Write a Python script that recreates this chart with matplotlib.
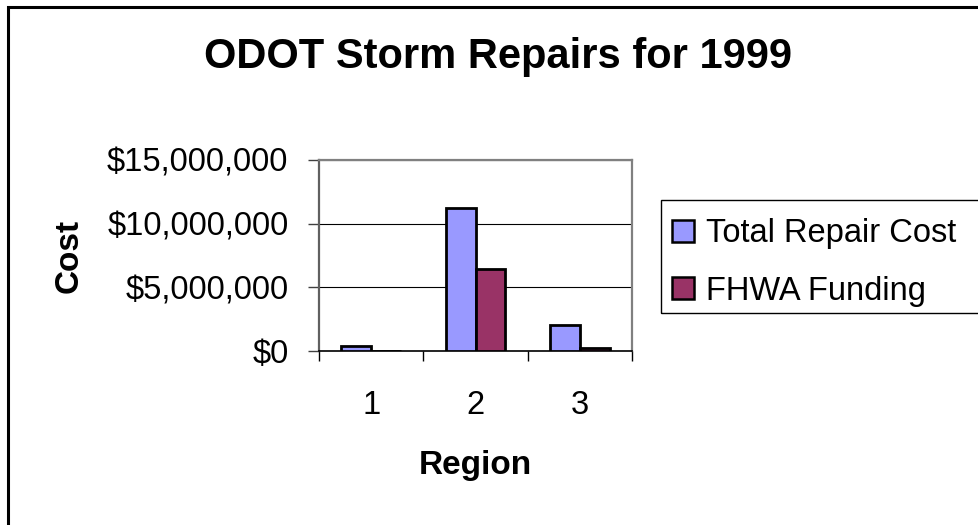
import matplotlib.pyplot as plt
import numpy as np
from matplotlib.patches import Rectangle
from matplotlib.ticker import FuncFormatter

# Data
regions = ["1", "2", "3"]
total_repair_cost = [400000, 11250000, 2080000]
fhwa_funding = [0, 6450000, 210000]
series_names = ["Total Repair Cost", "FHWA Funding"]

plt.rcParams['font.family'] = ['Liberation Sans', 'DejaVu Sans']

W, H = 979, 525
fig = plt.figure(figsize=(W / 100, H / 100), dpi=100)
fig.patch.set_facecolor('white')

# plot area in pixels: left 319, right 632, top 160, bottom 351
ax = fig.add_axes([319 / W, 1 - 351 / H, 313 / W, 191 / H])

x = np.arange(1, len(regions) + 1)
w = 0.285
ax.bar(x - w / 2, total_repair_cost, w, color='#9999FF', edgecolor='black', linewidth=2.0,
       label=series_names[0], zorder=3)
ax.bar(x + w / 2, fhwa_funding, w, color='#993366', edgecolor='black', linewidth=2.0,
       label=series_names[1], zorder=3)

ax.set_xlim(0.5, 3.5)
ax.set_ylim(0, 15000000)
ax.set_yticks([0, 5000000, 10000000, 15000000])
ax.yaxis.set_major_formatter(FuncFormatter(lambda v, p: f"${v:,.0f}"))
ax.grid(axis='y', color='black', linewidth=0.8, zorder=0)

# category boundaries as major ticks, labels on minor ticks at centres
ax.set_xticks([0.5, 1.5, 2.5, 3.5])
ax.set_xticklabels([])
ax.set_xticks(x, minor=True)
ax.set_xticklabels(regions, minor=True)
ax.tick_params(axis='x', which='major', direction='out', length=7, width=1, color='black')
ax.tick_params(axis='x', which='minor', length=0, pad=28, labelsize=23.5)
ax.tick_params(axis='y', direction='out', length=8, width=1, color='#404040', pad=14,
               labelsize=23.5)

for s in ['top', 'right']:
    ax.spines[s].set_color('#808080')
    ax.spines[s].set_linewidth(1.6)
ax.spines['left'].set_color('#606060')
ax.spines['left'].set_linewidth(1.6)
ax.spines['bottom'].set_color('black')
ax.spines['bottom'].set_linewidth(1.2)

ax.set_xlabel("Region", fontsize=24, fontweight='bold')
ax.xaxis.set_label_coords(0.5, -0.52)
ax.set_ylabel("Cost", fontsize=24, fontweight='bold')
ax.yaxis.set_label_coords(-0.75, 0.5)

fig.text(498.5 / W, 1 - 68.3 / H, "ODOT Storm Repairs for 1999", fontsize=30,
         fontweight='bold', ha='center', va='baseline')

# legend, framed by a box that runs off the right edge like the reference
leg = ax.legend(loc='upper left', bbox_to_anchor=(661 / W, 1 - 207 / H),
                bbox_transform=fig.transFigure, frameon=False, fontsize=23.5,
                handlelength=0.67, handleheight=0.67, handletextpad=0.35,
                borderpad=0.35, borderaxespad=0, labelspacing=0.8)
for h in leg.legend_handles:
    h.set_linewidth(1.8)
fig.patches.append(Rectangle((661 / W, 1 - 313 / H), 400 / W, 113 / H, fill=False,
                             edgecolor='black', linewidth=1.0, transform=fig.transFigure))

# outer chart border, cropped at right and bottom
fig.patches.append(Rectangle((8.5 / W, -0.1), 1.2, 1.1 - 6.5 / H, fill=False,
                             edgecolor='black', linewidth=2.2, transform=fig.transFigure))

fig.savefig("out.png", dpi=100, facecolor='white')
